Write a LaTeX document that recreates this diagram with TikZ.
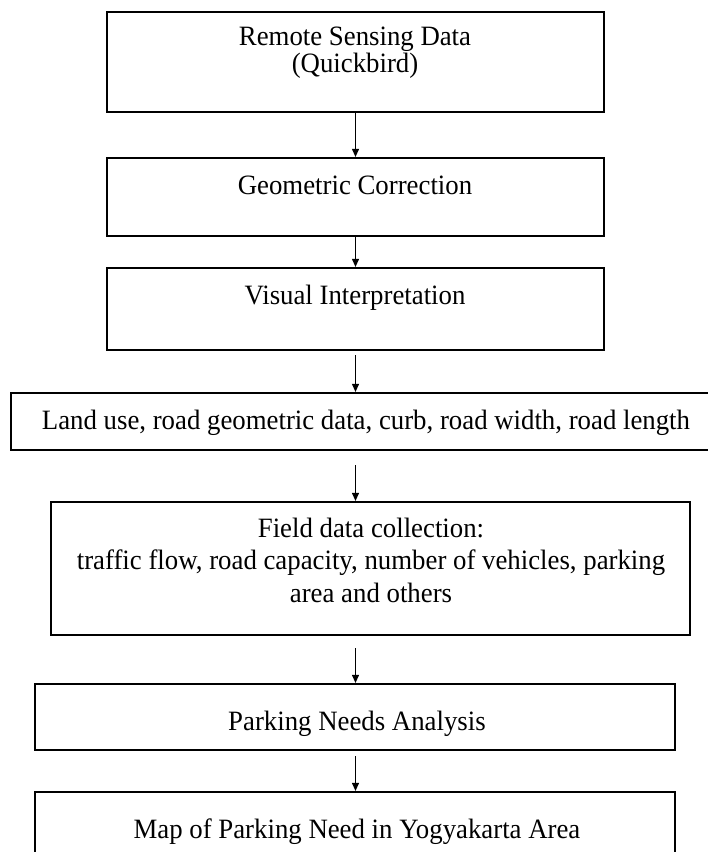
\documentclass[tikz,border=0pt]{standalone}
\usepackage{fontspec}
\setmainfont[FakeStretch=0.957]{Liberation Serif}
\usetikzlibrary{arrows.meta}
\tikzset{
  box/.style={draw=black, line width=2.2pt, rectangle, inner sep=0pt, fill=none},
  lbl/.style={anchor=base, inner sep=0pt, align=center, font=\fontsize{28}{27.5}\selectfont},
  flow/.style={draw=black, line width=1pt, -{Triangle[length=8pt,width=7pt]}}
}
\begin{document}
\begin{tikzpicture}[x=1pt,y=-1pt]
\clip (0,0) rectangle (708,852);
\fill[white] (0,0) rectangle (708,852);
% boxes
\node[box, minimum width=497pt, minimum height=100pt] (b1) at (355.5,62) {};
\node[box, minimum width=497pt, minimum height=78pt] (b2) at (355.5,197) {};
\node[box, minimum width=497pt, minimum height=82pt] (b3) at (355.5,309) {};
\node[box, minimum width=710pt, minimum height=57pt] (b4) at (366,421.5) {};
\node[box, minimum width=639pt, minimum height=133pt] (b5) at (370.5,568.5) {};
\node[box, minimum width=640pt, minimum height=66pt] (b6) at (355,717) {};
\node[box, minimum width=640pt, minimum height=90pt] (b7) at (355,837) {};
% texts (multi-line nodes: base anchor is the baseline of the last line)
\node[lbl] (t1) at (355,72.5) {Remote Sensing Data\\(Quickbird)};
\node[lbl] (t2) at (355,194) {Geometric Correction};
\node[lbl] (t3) at (355,304) {Visual Interpretation};
\node[lbl] (t4) at (366,429) {Land use, road geometric data, curb, road width, road length};
\node[lbl, font=\fontsize{28}{32.5}\selectfont] (t5) at (371,602) {Field data collection:\\traffic flow, road capacity, number of vehicles, parking\\area and others};
\node[lbl] (t6) at (357,730) {Parking Needs Analysis};
\node[lbl] (t7) at (357,838) {Map of Parking Need in Yogyakarta Area};
% connectors
\draw[flow] (b1.south) -- (b2.north);
\draw[flow] (b2.south) -- (b3.north);
\draw[flow, shorten <=4pt] (b3.south) -- (b3.south |- b4.north);
\draw[flow, shorten <=14pt] (b3.south |- b4.south) -- (b3.south |- b5.north);
\draw[flow, shorten <=12pt] (b3.south |- b5.south) -- (b3.south |- b6.north);
\draw[flow, shorten <=5pt] (b3.south |- b6.south) -- (b3.south |- b7.north);
\end{tikzpicture}
\end{document}
